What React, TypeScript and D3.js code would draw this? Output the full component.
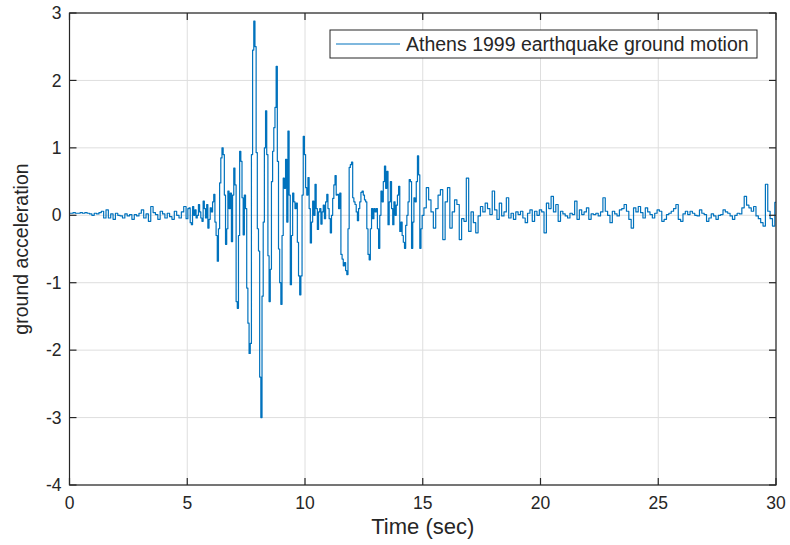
import React from 'react';
import * as d3 from 'd3';

// ---- data ----
const xTicks = [0, 5, 10, 15, 20, 25, 30];
const yTicks = [-4, -3, -2, -1, 0, 1, 2, 3];

// 0 – 4.9 s, every 0.1 s
const quietStart = 0;
const quietStep = 0.1;
const quietAccel = [
  0.03, 0.03, 0.04, 0.03, 0.03, 0.04, 0.03, 0.04, 0.03, 0.02,
  0.0, 0.03, 0.02, 0.04, 0.06, -0.04, 0.08, -0.04, 0.02, -0.06,
  0.03, 0.0, -0.01, -0.04, 0.02, -0.01, 0.01, -0.06, 0.01, -0.01,
  0.03, 0.08, -0.04, 0.02, -0.09, 0.13, 0.04, 0.01, -0.06, 0.06,
  0.02, -0.04, 0.03, -0.02, -0.06, 0.06, 0.0, -0.04, 0.05, 0.13,
];

// 5 – 14.95 s, every 0.05 s
const strongStart = 5;
const strongStep = 0.05;
const strongAccel = [
  -0.05, 0.1, 0.11, -0.11, -0.14, 0.13, 0.0, 0.08, -0.04, 0.0, 0.16, 0.05, -0.04, -0.09, 0.21, 0.1, -0.04, 0.16, -0.19, -0.06,
  0.11, 0.05, 0.2, 0.31, -0.1, -0.3, -0.68, -0.2, 0.48, 0.85, 1.0, 0.9, 0.3, -0.43, -0.2, 0.36, 0.1, 0.33, -0.39, 0.3,
  0.7, 0.45, -1.28, -1.38, -0.3, 0.95, 0.8, 0.26, -0.29, 0.3, 0.1, -1.08, -1.6, -2.05, -1.9, 0.9, 2.45, 2.88, 2.5, 0.93,
  -0.2, -0.53, -2.4, -3.0, -1.2, -0.1, 1.0, 1.55, 0.9, -0.6, -1.28, -0.8, 0.5, 0.95, 1.3, 1.6, 2.21, 0.8, -0.5, -1.0,
  -1.32, -0.3, 0.55, 0.4, 0.83, -0.1, 1.25, 0.3, -1.03, -0.3, 0.33, 0.2, 0.1, 0.18, -0.4, -0.9, -1.18, -0.9, 0.3, 1.17,
  0.9, 0.41, 0.3, 0.56, 0.1, -0.41, -0.1, 0.21, 0.0, 0.46, 0.1, -0.21, 0.05, 0.1, -0.13, 0.05, 0.15, -0.05, 0.2, 0.31,
  0.1, -0.05, -0.26, 0.0, 0.25, 0.45, 0.59, 0.3, 0.31, 0.1, 0.33, -0.58, -0.65, -0.75, -0.7, -0.82, -0.88, -0.2, 0.71, 0.75,
  0.79, 0.26, 0.2, 0.16, 0.05, -0.08, 0.1, 0.2, 0.34, 0.36, 0.3, 0.23, 0.2, -0.2, -0.58, -0.66, -0.2, 0.1, -0.05, 0.1,
  0.05, 0.1, -0.2, -0.49, 0.0, 0.36, 0.2, 0.5, 0.73, 0.4, 0.65, -0.14, 0.2, 0.5, 0.1, -0.14, 0.2, 0.0, 0.15, 0.3,
  0.43, -0.24, -0.1, -0.3, -0.4, -0.49, -0.15, 0.0, 0.2, 0.53, 0.5, -0.49, -0.1, 0.26, 0.2, 0.5, 0.88, 0.6, -0.49, -0.2,
];

// 15 – 30 s, every 0.1 s
const tailStart = 15;
const tailStep = 0.1;
const tailAccel = [
  0.0, 0.11, 0.41, 0.23, 0.05, -0.19, 0.1, 0.3, 0.38, -0.36,
  0.2, 0.41, -0.19, 0.05, 0.23, 0.16, -0.36, -0.05, -0.09, 0.55,
  -0.24, 0.05, -0.11, -0.26, -0.01, 0.13, 0.05, 0.18, 0.1, 0.01,
  0.36, 0.08, -0.06, 0.18, -0.01, 0.05, 0.26, -0.04, 0.03, -0.06,
  0.05, 0.01, 0.06, -0.04, -0.11, 0.03, 0.08, -0.09, 0.06, 0.0,
  0.08, 0.05, -0.26, 0.18, 0.1, 0.28, 0.05, 0.16, -0.09, 0.06,
  0.02, -0.01, -0.04, 0.03, 0.01, 0.21, -0.06, 0.08, 0.01, 0.05,
  0.11, -0.06, 0.02, 0.01, 0.03, -0.01, 0.05, 0.26, 0.06, 0.0,
  -0.11, 0.06, 0.02, -0.01, 0.08, 0.1, 0.16, 0.06, -0.06, -0.19,
  0.11, 0.05, 0.13, 0.04, -0.04, 0.11, 0.05, 0.01, -0.04, 0.03,
  0.08, 0.06, -0.09, -0.06, 0.01, 0.03, 0.06, 0.1, 0.16, -0.06,
  -0.09, 0.02, 0.06, 0.01, 0.06, 0.03, 0.0, -0.01, 0.08, 0.03,
  0.01, -0.09, -0.04, 0.02, -0.01, -0.06, 0.0, 0.01, 0.08, 0.05,
  0.03, -0.01, -0.06, 0.0, 0.03, 0.02, 0.11, 0.28, 0.15, 0.11,
  0.06, 0.13, -0.01, -0.05, -0.11, -0.16, 0.46, 0.06, -0.05, -0.16,
  0.19,
];

const legendLabel = 'Athens 1999 earthquake ground motion';
const xLabel = 'Time (sec)';
const yLabel = 'ground acceleration';

const FONT = '"Liberation Sans", Arial, Helvetica, sans-serif';
const AXIS = '#262626';
const GRID = '#dedede';
const LINE = '#0072BD';

export default function App() {
  const W = 790;
  const H = 545;
  const left = 69.5;
  const right = 776;
  const top = 13;
  const bottom = 485;

  const x = d3.scaleLinear().domain([0, 30]).range([left, right]);
  const y = d3.scaleLinear().domain([-4, 3]).range([bottom, top]);

  const points: [number, number][] = [
    ...quietAccel.map((v, i) => [quietStart + i * quietStep, v] as [number, number]),
    ...strongAccel.map((v, i) => [strongStart + i * strongStep, v] as [number, number]),
    ...tailAccel.map((v, i) => [tailStart + i * tailStep, v] as [number, number]),
  ];

  const line = d3
    .line<[number, number]>()
    .x((d) => x(d[0]))
    .y((d) => y(d[1]))
    .curve(d3.curveStep);

  const tickLen = 7;

  return (
    <svg
      width={W}
      height={H}
      style={{ position: 'absolute', left: 0, top: 0, background: '#fff' }}
      fontFamily={FONT}
    >
      <rect x={0} y={0} width={W} height={H} fill="#fff" />
      {/* grid */}
      {xTicks.map((t) => (
        <line key={'gx' + t} x1={x(t)} x2={x(t)} y1={top} y2={bottom} stroke={GRID} strokeWidth={1} />
      ))}
      {yTicks.map((t) => (
        <line key={'gy' + t} x1={left} x2={right} y1={y(t)} y2={y(t)} stroke={GRID} strokeWidth={1} />
      ))}

      {/* signal */}
      <path d={line(points) || ''} fill="none" stroke={LINE} strokeWidth={1.2} strokeLinejoin="round" />

      {/* box */}
      <rect x={left} y={top} width={right - left} height={bottom - top} fill="none" stroke={AXIS} strokeWidth={1.2} />

      {/* ticks */}
      {xTicks.map((t) => (
        <g key={'tx' + t}>
          <line x1={x(t)} x2={x(t)} y1={bottom} y2={bottom - tickLen} stroke={AXIS} strokeWidth={1.2} />
          <line x1={x(t)} x2={x(t)} y1={top} y2={top + tickLen} stroke={AXIS} strokeWidth={1.2} />
          <text x={x(t)} y={bottom + 24} textAnchor="middle" fontSize={17.5} fill={AXIS}>
            {t}
          </text>
        </g>
      ))}
      {yTicks.map((t) => (
        <g key={'ty' + t}>
          <line x1={left} x2={left + tickLen} y1={y(t)} y2={y(t)} stroke={AXIS} strokeWidth={1.2} />
          <line x1={right} x2={right - tickLen} y1={y(t)} y2={y(t)} stroke={AXIS} strokeWidth={1.2} />
          <text x={left - 8} y={y(t)} dy="0.35em" textAnchor="end" fontSize={17.5} fill={AXIS}>
            {t}
          </text>
        </g>
      ))}

      {/* axis labels */}
      <text x={(left + right) / 2} y={534} textAnchor="middle" fontSize={22} fill={AXIS}>
        {xLabel}
      </text>
      <text
        transform={`translate(28, ${(top + bottom) / 2}) rotate(-90)`}
        textAnchor="middle"
        fontSize={19.5}
        fill={AXIS}
      >
        {yLabel}
      </text>

      {/* legend */}
      <rect x={330} y={30} width={427} height={28} fill="#fff" stroke={AXIS} strokeWidth={1} />
      <line x1={336} x2={400} y1={44} y2={44} stroke={LINE} strokeWidth={1.2} />
      <text x={406} y={51} fontSize={19.5} fill={AXIS}>
        {legendLabel}
      </text>
    </svg>
  );
}
